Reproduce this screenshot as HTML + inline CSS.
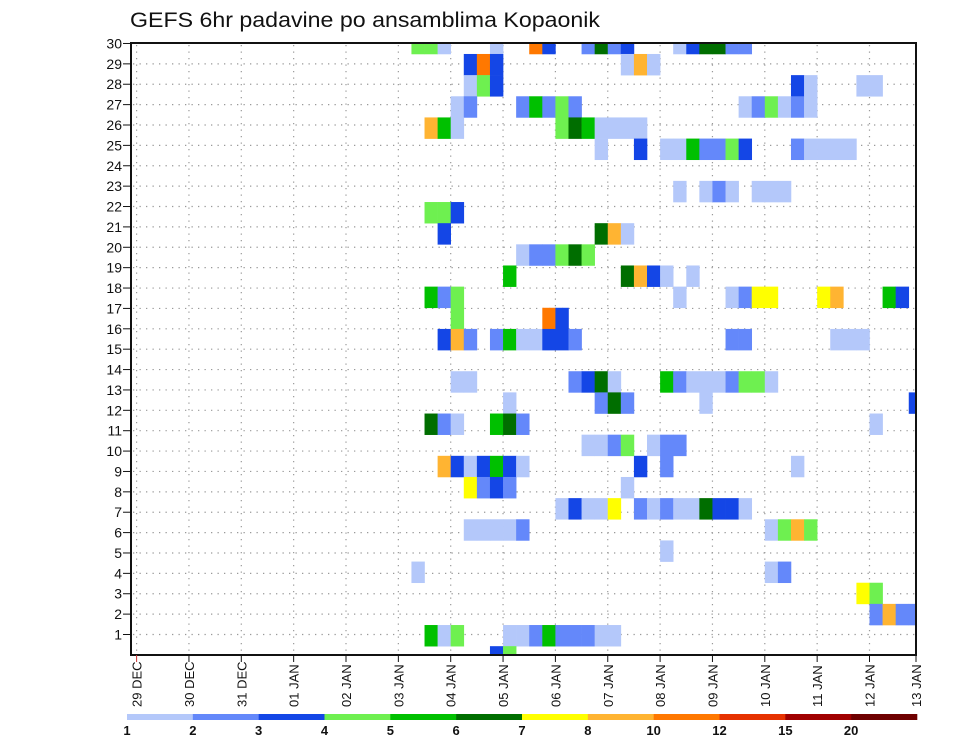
<!DOCTYPE html>
<html><head><meta charset="utf-8"><style>
html,body{margin:0;padding:0;background:#fff;}
svg{display:block;font-family:"Liberation Sans",sans-serif;}
</style></head><body>
<svg id="chart" width="960" height="742" viewBox="0 0 960 742" xmlns="http://www.w3.org/2000/svg">
<rect width="960" height="742" fill="#fff"/>
<text x="130" y="27" font-size="21" fill="#111" textLength="470" lengthAdjust="spacingAndGlyphs">GEFS 6hr padavine po ansamblima Kopaonik</text>
<defs><clipPath id="plotclip"><rect x="131" y="43" width="785" height="612"/></clipPath></defs>
<g id="grid"></g>
<g id="cells" clip-path="url(#plotclip)"></g>
<rect x="131" y="43" width="785" height="612" fill="none" stroke="#111" stroke-width="2"/>
<g id="yaxis"></g>
<g id="xaxis"></g>
<g id="legend"></g>
</svg>
<script>
const dayLabels = ["29 DEC","30 DEC","31 DEC","01 JAN","02 JAN","03 JAN","04 JAN","05 JAN","06 JAN","07 JAN","08 JAN","09 JAN","10 JAN","11 JAN","12 JAN","13 JAN"];
const yTickLabels = [1,2,3,4,5,6,7,8,9,10,11,12,13,14,15,16,17,18,19,20,21,22,23,24,25,26,27,28,29,30];
const levelLabels = ["1","2","3","4","5","6","7","8","10","12","15","20"];
const levelColors = ["#b4c8fa","#6488fa","#1446e6","#6ef050","#00c000","#006e00","#ffff00","#ffb432","#ff7800","#e63200","#a00000","#6e0000"];
// member:timeStep+level letter (a=level0 ... l=level11), time step = 6 hours from 29 DEC 00Z
const cellSpec = [
"29:21d 22d 23a 27a 30i 31c 34b 35f 36b 37c 41a 42c 43f 44f 45b 46b",
"28:25c 26i 27c 37a 38h 39a",
"27:25a 26d 27c 50c 51a 55a 56a",
"26:24a 25b 29b 30e 31b 32d 33b 46a 47b 48d 49a 50b 51a",
"25:22h 23e 24a 32d 33f 34e 35a 36a 37a 38a",
"24:35a 38c 40a 41a 42e 43b 44b 45d 46c 50b 51a 52a 53a 54a",
"22:41a 43a 44b 45a 47a 48a 49a",
"21:22d 23d 24c",
"20:23c 35f 36h 37a",
"19:29a 30b 31b 32d 33f 34d",
"18:28e 37f 38h 39c 40a 42a",
"17:22e 23b 24d 41a 45a 46b 47g 48g 52g 53h 57e 58c",
"16:24d 31i 32c",
"15:23c 24h 25b 27b 28e 29a 30a 31c 32c 33b 45b 46b 53a 54a 55a",
"13:24a 25a 33b 34c 35f 36a 40e 41b 42a 43a 44a 45b 46d 47d 48a",
"12:28a 35b 36f 37b 43a 59c",
"11:22f 23b 24a 27e 28f 29b 56a",
"10:34a 35a 36b 37d 39a 40b 41b",
"9:23h 24c 25a 26c 27e 28c 29a 38c 40b 50a",
"8:25g 26b 27c 28b 37a",
"7:32a 33c 34a 35a 36g 38b 39a 40b 41a 42a 43f 44c 45c 46a",
"6:25a 26a 27a 28a 29b 48a 49d 50h 51d",
"5:40a",
"4:21a 48a 49b",
"3:55g 56d",
"2:56b 57h 58b 59b",
"1:22e 23a 24d 28a 29a 30b 31e 32b 33b 34b 35a 36a",
"0:27c 28d"
];
const NS="http://www.w3.org/2000/svg";
const X0=136.6, DAY=52.35, STEP=DAY/4;
function xDay(d){return X0+d*DAY;}
function xStep(t){return X0+t*STEP;}
function yLabel(v){return 634.5-(v-1)*20.38;}
function yMember(m){return 656.75-m*21.15;}
const CH=21.15;
function mk(tag,attrs,parent){const e=document.createElementNS(NS,tag);for(const k in attrs)e.setAttribute(k,attrs[k]);parent.appendChild(e);return e;}
const grid=document.getElementById('grid'),cells=document.getElementById('cells'),ya=document.getElementById('yaxis'),xa=document.getElementById('xaxis'),lg=document.getElementById('legend');
// grid
yTickLabels.forEach(v=>{const y=yLabel(v);if(y<45)return;
 const l=mk('line',{x1:133,x2:915,y1:y,y2:y,stroke:'#999','stroke-width':1.2,'stroke-dasharray':'1.3,5.2'},grid);
 
 });
dayLabels.forEach((s,d)=>{const x=xDay(d);if(x>914)return;
 const l=mk('line',{x1:x,x2:x,y1:45,y2:654,stroke:'#999','stroke-width':1.2,'stroke-dasharray':'1.3,5.2'},grid);
 
 });
// cells
cellSpec.forEach(row=>{const [m,rest]=row.split(':');const mem=+m;
 rest.trim().split(/\s+/).forEach(tok=>{const t=parseInt(tok);const lv=tok.charCodeAt(tok.length-1)-97;
  const r=mk('rect',{x:xStep(t),y:yMember(mem)-CH/2,width:STEP+0.3,height:CH+0.3,fill:levelColors[lv]},cells);
  
  });});
// y axis
yTickLabels.forEach(v=>{const y=yLabel(v);
 const tk=mk('line',{x1:123,x2:131,y1:y,y2:y,stroke:'#111','stroke-width':1},ya);
 
 
 const t=mk('text',{x:122,y:y+5,'text-anchor':'end','font-size':14,fill:'#111'},ya);t.textContent=v;
 
 });
// x axis
dayLabels.forEach((s,d)=>{let x=xDay(d);if(x>916)x=916;
 const tk=mk('line',{x1:x,x2:x,y1:655,y2:662,stroke:d===0?'#c33':'#111','stroke-width':1},xa);
 
 
 const t=mk('text',{x:0,y:0,'text-anchor':'start','font-size':13,fill:'#111',transform:`translate(${x+5},707) rotate(-90)`},xa);t.textContent=s;
 
 });
// legend
const LX0=127,LW=(917-127)/levelColors.length;
levelColors.forEach((c,i)=>{const r=mk('rect',{x:LX0+i*LW,y:714,width:LW+0.3,height:6,fill:c},lg);
 
 });
levelLabels.forEach((s,i)=>{const t=mk('text',{x:LX0+i*LW,y:735,'text-anchor':'middle','font-size':13,'font-weight':'bold',fill:'#111'},lg);t.textContent=s;
 
 });
</script>
</body></html>
